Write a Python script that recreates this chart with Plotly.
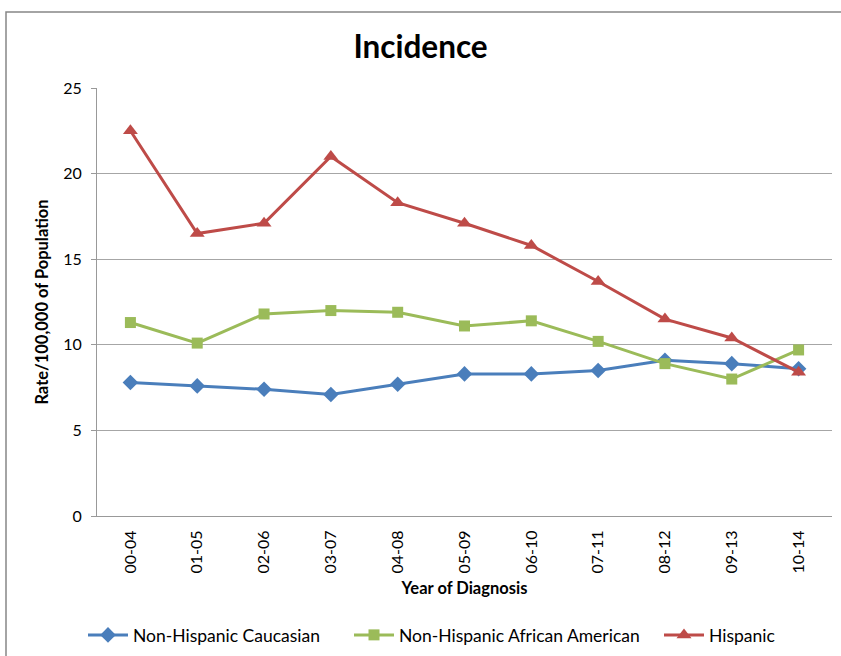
import plotly.graph_objects as go

periods = ["00-04", "01-05", "02-06", "03-07", "04-08", "05-09", "06-10", "07-11", "08-12", "09-13", "10-14"]
caucasian = [7.8, 7.6, 7.4, 7.1, 7.7, 8.3, 8.3, 8.5, 9.1, 8.9, 8.6]
african_american = [11.3, 10.1, 11.8, 12.0, 11.9, 11.1, 11.4, 10.2, 8.9, 8.0, 9.7]
hispanic = [22.5, 16.5, 17.1, 21.0, 18.3, 17.1, 15.8, 13.7, 11.5, 10.4, 8.4]
y_ticks = [0, 5, 10, 15, 20, 25]

FONT = "Lato, 'Open Sans', sans-serif"

W, H = 841, 656
L, R, T, B = 97, 9, 88, 140
pw, ph = W - L - R, H - T - B

def px_x(p):
    return (p - L) / pw

def px_y(p):
    return (T + ph - p) / ph

fig = go.Figure()
series = [
    ("Non-Hispanic Caucasian", caucasian, "#4A7EBB", "diamond", 12, "legend", 89),
    ("Non-Hispanic African American", african_american, "#9BBB59", "square", 11, "legend2", 355),
    ("Hispanic", hispanic, "#BE4B48", "triangle-up", 13, "legend3", 665),
]
legends = {}
for name, vals, col, sym, sz, lg, lx in series:
    fig.add_trace(go.Scatter(
        x=periods, y=vals, name=name, mode="lines+markers",
        line=dict(color=col, width=3),
        marker=dict(symbol=sym, size=sz, color=col),
        legend=lg,
    ))
    legends[lg] = dict(orientation="h", xref="container", yref="container",
                       x=(lx - 6) / W, xanchor="left", y=(H - 635) / H, yanchor="middle",
                       font=dict(size=17.5, family=FONT, color="black"), itemwidth=40,
                       bgcolor="rgba(0,0,0,0)", tracegroupgap=0)

fig.update_layout(
    width=W, height=H,
    margin=dict(l=L, r=R, t=T, b=B, autoexpand=False),
    paper_bgcolor="white", plot_bgcolor="white",
    font=dict(family=FONT, color="black"),
    showlegend=True,
    title=dict(text="<b>Incidence</b>", x=0.5, xanchor="center", y=1 - 47 / H, yanchor="middle",
               font=dict(size=31.5, family=FONT, color="black")),
    xaxis=dict(
        type="category", range=[-0.5, 10.5], tickangle=-90, showgrid=False, automargin=False,
        showline=True, linecolor="#999999", linewidth=1,
        ticks="", ticklabelstandoff=7,
        tickfont=dict(size=16),
        title=dict(text="<b>Year of Diagnosis</b>", font=dict(size=16.5), standoff=9),
    ),
    yaxis=dict(
        range=[0, 25], tickvals=y_ticks, showgrid=True, gridcolor="#A6A6A6", gridwidth=1,
        showline=True, linecolor="#999999", linewidth=1, automargin=False,
        ticks="outside", ticklen=5, tickcolor="#999999", zeroline=False,
        tickfont=dict(size=16), ticklabelstandoff=6,
        title=dict(text="<b>Rate/100,000 of Population</b>", font=dict(size=16.5), standoff=10),
    ),
    shapes=[
        dict(type="rect", xref="paper", yref="paper",
             x0=px_x(6), x1=px_x(W + 10),
             y0=px_y(H + 10), y1=px_y(12),
             line=dict(color="#868686", width=1.5), fillcolor="rgba(0,0,0,0)", layer="below"),
    ],
    **legends,
)
fig.write_html("out.html", config={"displayModeBar": False},
               post_script="document.body.style.margin='0';")
